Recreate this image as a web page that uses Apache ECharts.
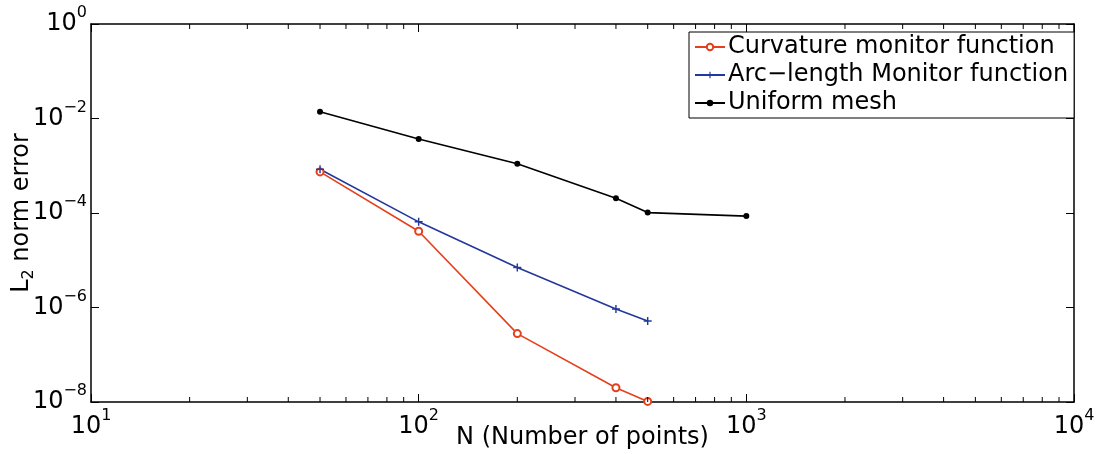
<!DOCTYPE html>
<html>
<head>
<meta charset="utf-8">
<script src="https://cdn.jsdelivr.net/npm/echarts@6/dist/echarts.min.js"></script>
<style>
  html, body { margin: 0; padding: 0; background: #fff; }
  #chart { width: 1099px; height: 454px; }
</style>
</head>
<body>
<div id="chart"></div>
<script>
// values
var nPoints = [50, 100, 200, 400, 500];
var curvatureErr = [7.4e-4, 4.1e-5, 2.8e-7, 2.0e-8, 1.03e-8];
var arcLengthErr = [8.4e-4, 6.5e-5, 7.0e-6, 9.3e-7, 5.2e-7];
var uniformN = [50, 100, 200, 400, 500, 1000];
var uniformErr = [1.39e-2, 3.7e-3, 1.1e-3, 2.05e-4, 1.02e-4, 8.6e-5];
var seriesNames = ['Curvature monitor function', 'Arc\u2212length Monitor function', 'Uniform mesh'];
var xTitle = 'N (Number of points)';

var FONT = 'DejaVu Sans';
var plusPath = 'path://M-0.18,-1 L0.18,-1 L0.18,-0.18 L1,-0.18 L1,0.18 L0.18,0.18 L0.18,1 L-0.18,1 L-0.18,0.18 L-1,0.18 L-1,-0.18 L-0.18,-0.18 Z';

function pairs(xs, ys) {
    var out = [];
    for (var i = 0; i < xs.length; i++) out.push([xs[i], ys[i]]);
    return out;
}

function powLabel(v) {
    var e = Math.round(Math.log10(v));
    var s = e < 0 ? '\u2212' + (-e) : '' + e;
    return '{b|10}{e|' + s + '}';
}

var powRich = {
    b: { fontFamily: FONT, fontSize: 24, lineHeight: 38, color: '#000' },
    e: { fontFamily: FONT, fontSize: 16, lineHeight: 16, verticalAlign: 'top', color: '#000' }
};

var myChart = echarts.init(document.getElementById('chart'));
var option = {
    animation: false,
    backgroundColor: '#fff',
    grid: { left: 91, right: 25, top: 24, bottom: 52, containLabel: false, outerBoundsMode: 'none' },
    legend: {
        orient: 'vertical',
        left: 689,
        top: 32,
        padding: [2, 6, 2, 5],
        itemGap: 2,
        itemWidth: 30,
        itemHeight: 8,
        borderColor: '#000',
        borderWidth: 1,
        backgroundColor: '#fff',
        textStyle: { fontFamily: FONT, fontSize: 24, color: '#000', lineHeight: 26, padding: [0, 0, 0, -2] },
        data: seriesNames
    },
    xAxis: [
        {
            type: 'log', logBase: 10, min: 10, max: 10000, position: 'bottom',
            axisLine: { lineStyle: { color: '#000', width: 1.5 } },
            axisTick: { inside: true, length: 8, lineStyle: { color: '#000' } },
            axisLabel: { margin: 6, formatter: powLabel, rich: powRich },
            splitLine: { show: false }
        },
        {
            type: 'log', logBase: 10, min: 10, max: 10000, position: 'top',
            axisLine: { lineStyle: { color: '#000', width: 1.5 } },
            axisTick: { inside: true, length: 8, lineStyle: { color: '#000' } },
            axisLabel: { show: false },
            splitLine: { show: false }
        }
    ],
    yAxis: [
        {
            type: 'log', logBase: 10, min: 1e-8, max: 1, interval: 2, position: 'left',
            axisLine: { lineStyle: { color: '#000', width: 1.5 } },
            axisTick: { inside: true, length: 8, lineStyle: { color: '#000' } },
            axisLabel: { margin: 4, formatter: powLabel, rich: powRich },
            splitLine: { show: false }
        },
        {
            type: 'log', logBase: 10, min: 1e-8, max: 1, interval: 2, position: 'right',
            axisLine: { lineStyle: { color: '#000', width: 1.5 } },
            axisTick: { inside: true, length: 8, lineStyle: { color: '#000' } },
            axisLabel: { show: false },
            splitLine: { show: false }
        }
    ],
    series: [
        {
            name: seriesNames[0], type: 'line',
            data: pairs(nPoints, curvatureErr),
            symbol: 'emptyCircle', symbolSize: 7,
            lineStyle: { color: '#E4401B', width: 1.6 },
            itemStyle: { color: '#E4401B', borderColor: '#E4401B', borderWidth: 1.3 }
        },
        {
            name: seriesNames[1], type: 'line',
            data: pairs(nPoints, arcLengthErr),
            symbol: plusPath, symbolSize: 8,
            lineStyle: { color: '#23389C', width: 1.6 },
            itemStyle: { color: '#23389C' }
        },
        {
            name: seriesNames[2], type: 'line',
            data: pairs(uniformN, uniformErr),
            symbol: 'circle', symbolSize: 6,
            lineStyle: { color: '#000', width: 1.6 },
            itemStyle: { color: '#000' }
        }
    ]
};
myChart.setOption(option);

// log minor ticks (2..9 per decade) on bottom and top edges, plus axis titles
var yBottom = myChart.convertToPixel({ yAxisIndex: 0 }, 1e-8);
var yTop = myChart.convertToPixel({ yAxisIndex: 0 }, 1);
var xLeft = myChart.convertToPixel({ xAxisIndex: 0 }, 10);
var xRight = myChart.convertToPixel({ xAxisIndex: 0 }, 10000);
var extras = [];
for (var k = 1; k < 4; k++) {
    for (var m = 2; m <= 9; m++) {
        var px = myChart.convertToPixel({ xAxisIndex: 0 }, m * Math.pow(10, k));
        extras.push({ type: 'line', silent: true, z: 10, shape: { x1: px, y1: yBottom, x2: px, y2: yBottom - 5 }, style: { stroke: '#000', lineWidth: 1 } });
        extras.push({ type: 'line', silent: true, z: 10, shape: { x1: px, y1: yTop, x2: px, y2: yTop + 5 }, style: { stroke: '#000', lineWidth: 1 } });
    }
}
extras.push({
    type: 'text', silent: true, x: (xLeft + xRight) / 2, y: yBottom + 36,
    style: { text: xTitle, fontFamily: FONT, fontSize: 24, fill: '#000', align: 'center', verticalAlign: 'middle' }
});
extras.push({
    type: 'text', silent: true, x: 22, y: (yTop + yBottom) / 2, rotation: Math.PI / 2,
    style: {
        text: '{a|L}{s|2}{a| norm error}', align: 'center', verticalAlign: 'middle', fill: '#000',
        rich: {
            a: { fontFamily: FONT, fontSize: 24, lineHeight: 30, fill: '#000' },
            s: { fontFamily: FONT, fontSize: 16, lineHeight: 16, verticalAlign: 'bottom', fill: '#000' }
        }
    }
});
myChart.setOption({ graphic: extras });
</script>
</body>
</html>
